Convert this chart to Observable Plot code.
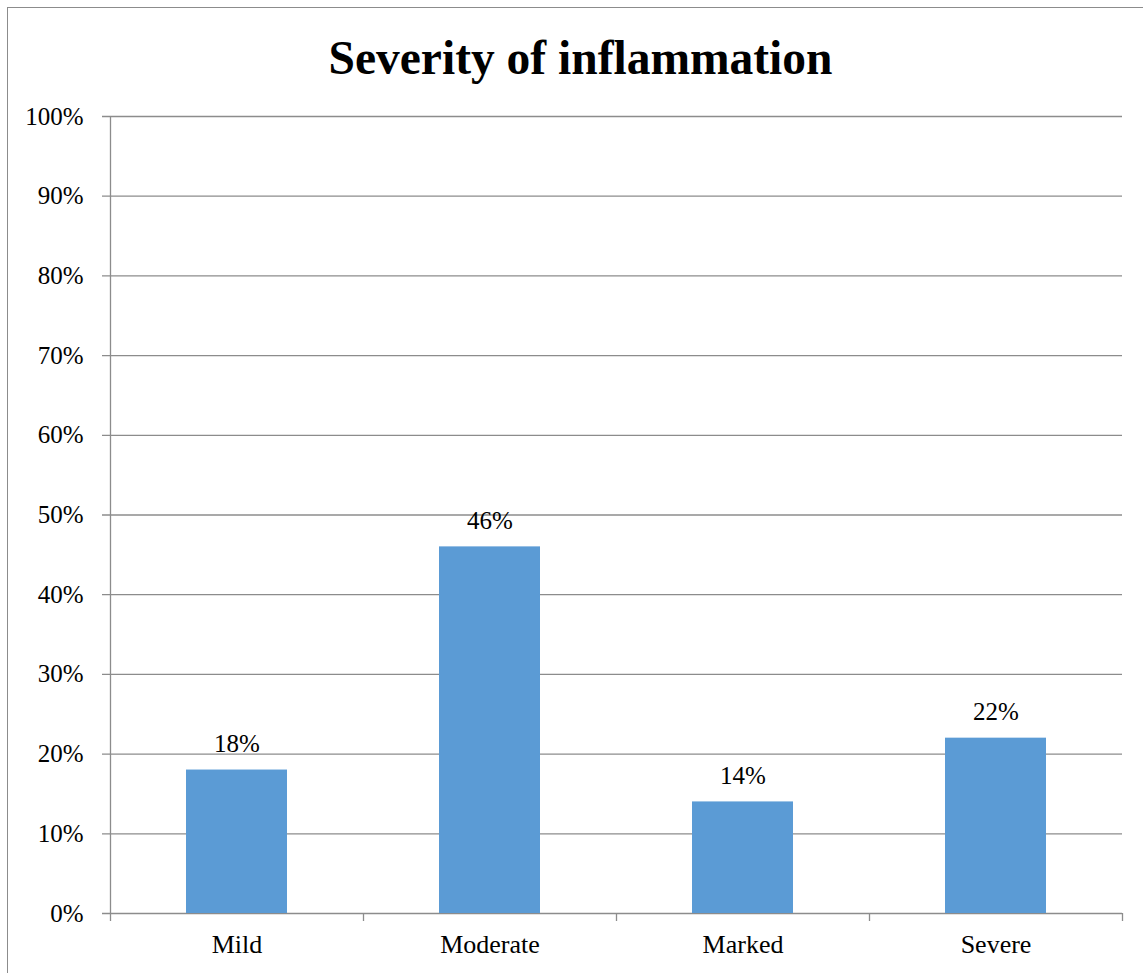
<!DOCTYPE html>
<html>
<head>
<meta charset="utf-8">
<script src="https://cdn.jsdelivr.net/npm/d3@7"></script>
<script src="https://cdn.jsdelivr.net/npm/@observablehq/plot@0.6"></script>
<style>
  html, body { margin: 0; padding: 0; background: #fff; overflow: hidden; }
  #wrap { position: relative; width: 1143px; height: 973px; }
  #border { position: absolute; left: 7px; top: 7px; width: 1200px; height: 1100px;
            border: 1.5px solid #8c8c8c; box-sizing: border-box; pointer-events: none; }
  #chart { position: absolute; left: 0; top: 0; }
</style>
</head>
<body>
<div id="wrap">
  <div id="chart"></div>
  <div id="border"></div>
</div>
<script>
// Severity grades and the share of cases in each
const categories = ["Mild", "Moderate", "Marked", "Severe"];
const shares = [0.18, 0.46, 0.14, 0.22];
const yTicks = [0, 0.1, 0.2, 0.3, 0.4, 0.5, 0.6, 0.7, 0.8, 0.9, 1.0];
const title = "Severity of inflammation";

const rows = categories.map((c, i) => ({category: c, share: shares[i]}));

const W = 1143, H = 973;
const mLeft = 110, mRight = 21, mTop = 116, mBottom = 60;
const step = (W - mLeft - mRight) / categories.length; // band step (paddingOuter = paddingInner / 2)
const font = "'Liberation Serif', 'Times New Roman', serif";
const grey = "#8c8c8c";
const pct = d3.format(".0%");

const chart = Plot.plot({
  width: W,
  height: H,
  marginLeft: mLeft,
  marginRight: mRight,
  marginTop: mTop,
  marginBottom: mBottom,
  style: {fontFamily: font, fontSize: "25px", color: "#000", background: "#fff"},
  x: {domain: categories, paddingInner: 0.6, paddingOuter: 0.3, label: null},
  y: {domain: [0, 1], label: null},
  marks: [
    // horizontal gridlines, extended left over the tick marks
    Plot.ruleY(yTicks, {stroke: grey, strokeWidth: 1.3, insetLeft: -8}),
    // vertical value axis line
    Plot.ruleX([categories[0]], {y1: 0, y2: 1, dx: -step / 2, stroke: grey, strokeWidth: 1.3}),
    // category boundary ticks below the baseline
    Plot.ruleX(categories, {y1: 0, y2: 0, insetBottom: -8, dx: -step / 2, stroke: grey, strokeWidth: 1.3}),
    Plot.ruleX([categories[categories.length - 1]], {y1: 0, y2: 0, insetBottom: -8, dx: step / 2, stroke: grey, strokeWidth: 1.3}),
    Plot.barY(rows, {x: "category", y: "share", fill: "#5b9bd5"}),
    Plot.text(rows, {x: "category", y: "share", text: d => pct(d.share), dy: -26,
                     lineAnchor: "middle", fontSize: 25, fill: "#000"}),
    Plot.axisY(yTicks, {tickFormat: pct, tickSize: 0, tickPadding: 27, fontSize: 25, fill: "#000"}),
    Plot.axisX({tickSize: 0, tickPadding: 21, fontSize: 26, fill: "#000"}),
    Plot.text([title], {frameAnchor: "top", dx: -36, dy: -58, lineAnchor: "middle",
                        fontSize: 47.5, fontWeight: "bold", fill: "#000"})
  ]
});
document.getElementById("chart").append(chart);
</script>
</body>
</html>
